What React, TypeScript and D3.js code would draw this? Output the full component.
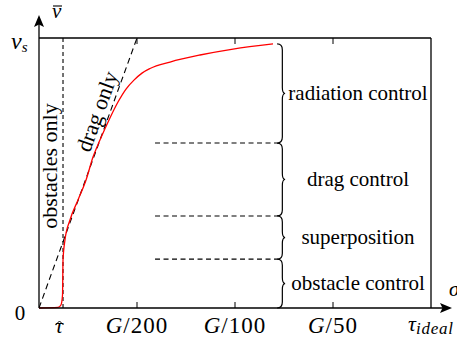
import React from "react";
import * as d3 from "d3";

// Red curve: stress (in tick units) vs mean velocity (fraction of v_s)
const curveTau = [0, 0.194, 0.224, 0.24, 0.245, 0.265, 0.316, 0.398, 0.48, 0.551, 0.622, 0.724, 0.806, 0.888, 0.969, 1.051, 1.133, 1.337, 1.643, 1.98, 2.388];
const curveV = [0, 0.002, 0.011, 0.048, 0.178, 0.252, 0.326, 0.4, 0.474, 0.559, 0.622, 0.704, 0.763, 0.811, 0.844, 0.87, 0.887, 0.911, 0.937, 0.959, 0.978];

const xTickValues = [1, 2, 3];
const xTickDenoms = ["200", "100", "50"];
const tauHat = 0.245;
// drag-only line endpoints
const dragTau = [0, 1];
const dragV = [0, 1];
// regime boundaries (v / v_s), top to bottom
const regimeBounds = [0.978, 0.611, 0.341, 0.181, 0];
const regimeLabels = ["radiation control", "drag control", "superposition", "obstacle control"];
const dashStartTau = 1.184;
const braceTau = 2.43;

const W = 457, H = 337;
const FONT = "Liberation Serif";

function bracePath(x: number, y0: number, y1: number, w: number) {
  const r = Math.min(6, (y1 - y0) / 4);
  const bx = x + w * 0.65;
  const ym = (y0 + y1) / 2;
  return `M${x},${y0} Q${bx},${y0} ${bx},${y0 + r} L${bx},${ym - r} Q${bx},${ym} ${x + w},${ym} Q${bx},${ym} ${bx},${ym + r} L${bx},${y1 - r} Q${bx},${y1} ${x},${y1}`;
}

export default function App() {
  const x = d3.scaleLinear().domain([0, 4]).range([39, 431]);
  const y = d3.scaleLinear().domain([0, 1]).range([308, 38]);

  const pts: [number, number][] = curveTau.map((t, i) => [t, curveV[i]]);
  const line = d3
    .line<[number, number]>()
    .x((d) => x(d[0]))
    .y((d) => y(d[1]))
    .curve(d3.curveMonotoneX);

  const x0 = x(0), x1 = x(4), y0 = y(0), y1 = y(1);
  const dragAngle = (-Math.atan2(y(dragV[0]) - y(dragV[1]), x(dragTau[1]) - x(dragTau[0])) * 180) / Math.PI;
  const tMid = 0.715;
  const lx = x(dragTau[0] + (dragTau[1] - dragTau[0]) * tMid);
  const ly = y(dragV[0] + (dragV[1] - dragV[0]) * tMid);
  const hx = x(tauHat) - 4;

  return (
    <svg width={W} height={H} style={{ position: "absolute", left: 0, top: 0, background: "#fff" }} fontFamily={FONT}>
      <defs>
        <clipPath id="plotclip">
          <rect x={x0} y={y1} width={x1 - x0} height={y0 - y1} />
        </clipPath>
      </defs>

      {/* frame top & right */}
      <line x1={x0} x2={x1} y1={y1} y2={y1} stroke="#000" strokeWidth={1.3} />
      <line x1={x1} x2={x1} y1={y1} y2={y0} stroke="#000" strokeWidth={1.3} />

      {/* ticks bottom and top */}
      {xTickValues.map((t) => (
        <g key={t}>
          <line x1={x(t)} x2={x(t)} y1={y0} y2={y0 - 6} stroke="#000" strokeWidth={1} />
          <line x1={x(t)} x2={x(t)} y1={y1} y2={y1 + 6} stroke="#000" strokeWidth={1} />
        </g>
      ))}

      {/* obstacles only dashed vertical */}
      <line x1={x(tauHat)} x2={x(tauHat)} y1={y0} y2={y1} stroke="#000" strokeWidth={1.1} strokeDasharray="4,3" />

      {/* drag only dashed line */}
      <line x1={x(dragTau[0])} y1={y(dragV[0])} x2={x(dragTau[1])} y2={y(dragV[1])} stroke="#000" strokeWidth={1.1} strokeDasharray="6,4" clipPath="url(#plotclip)" />

      {/* regime dashed lines */}
      {regimeBounds.slice(1, 4).map((v, i) => (
        <line key={i} x1={x(dashStartTau)} x2={x(braceTau)} y1={y(v)} y2={y(v)} stroke="#000" strokeWidth={1.1} strokeDasharray="5,3.5" />
      ))}

      {/* braces and regime labels */}
      {regimeLabels.map((lab, i) => {
        const ya = y(regimeBounds[i]);
        const yb = y(regimeBounds[i + 1]);
        return (
          <g key={lab}>
            <path d={bracePath(x(braceTau), ya, yb, 8)} fill="none" stroke="#000" strokeWidth={1.2} />
            <text x={358} y={(ya + yb) / 2 + 6.5} textAnchor="middle" fontSize={21} fill="#000">
              {lab}
            </text>
          </g>
        );
      })}

      {/* red curve */}
      <path d={line(pts) || ""} fill="none" stroke="#ff0000" strokeWidth={1.3} />

      {/* axes with arrows */}
      <line x1={x0} x2={444} y1={y0} y2={y0} stroke="#000" strokeWidth={1.3} />
      <path d={`M452,${y0} L440,${y0 - 5} L442.5,${y0} L440,${y0 + 5} Z`} fill="#000" />
      <line x1={x0} x2={x0} y1={y0} y2={23} stroke="#000" strokeWidth={1.3} />
      <path d={`M${x0},15 L${x0 - 5},27 L${x0},24.5 L${x0 + 5},27 Z`} fill="#000" />

      {/* rotated labels */}
      <text transform={`translate(56.5,166) rotate(-90)`} textAnchor="middle" fontSize={22} fill="#000">
        obstacles only
      </text>
      <text transform={`translate(${lx - 5},${ly - 1}) rotate(${dragAngle})`} textAnchor="middle" fontSize={22} fill="#000">
        drag only
      </text>

      {/* y labels */}
      <text x={11} y={49} fontSize={24} fontStyle="italic" fill="#000">
        v
        <tspan fontSize={15} dy={3}>s</tspan>
      </text>
      <text x={20} y={320} fontSize={21} textAnchor="middle" fill="#000">0</text>
      <text x={52} y={18} fontSize={21} fontStyle="italic" fill="#000">v</text>
      <line x1={53} x2={62} y1={6} y2={6} stroke="#000" strokeWidth={1.1} />

      {/* x tick labels */}
      {xTickValues.map((t, i) => (
        <text key={t} x={x(t)} y={333} fontSize={23} textAnchor="middle" letterSpacing={1} fill="#000">
          <tspan fontStyle="italic">G</tspan>/{xTickDenoms[i]}
        </text>
      ))}
      <text x={hx} y={333} fontSize={22} textAnchor="middle" fontStyle="italic" fill="#000">τ</text>
      <path d={`M${hx - 3.5},${325} L${hx + 0.5},${321} L${hx + 4.5},${325}`} fill="none" stroke="#000" strokeWidth={1} />
      <text x={408} y={331} fontSize={22} fontStyle="italic" fill="#000">
        τ
        <tspan fontSize={17} dy={3} letterSpacing={0.8}>ideal</tspan>
      </text>
      <text x={449} y={296} fontSize={21} fontStyle="italic" fill="#000">σ</text>
    </svg>
  );
}
